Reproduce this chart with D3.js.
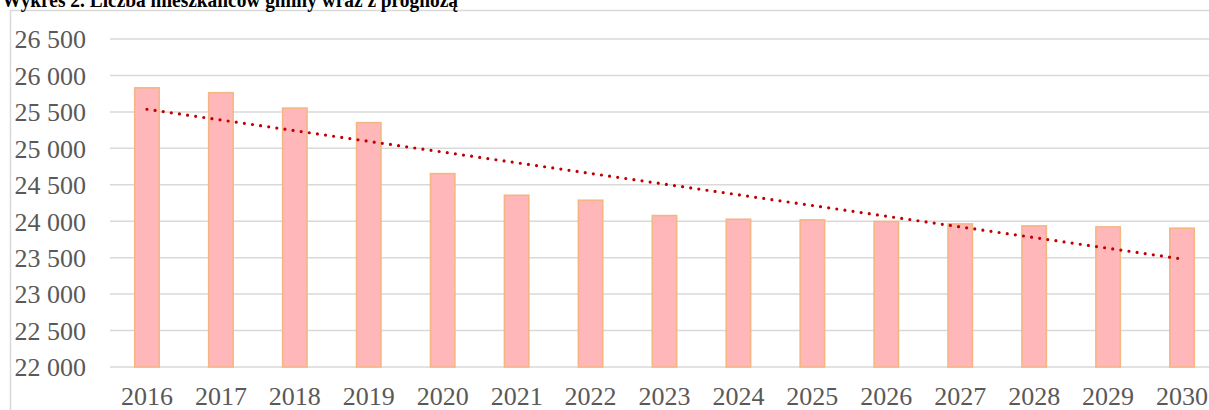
<!DOCTYPE html>
<html>
<head>
<meta charset="utf-8">
<script src="https://cdn.jsdelivr.net/npm/d3@7"></script>
<style>
  html, body { margin: 0; padding: 0; background: #fff; }
  svg { display: block; }
</style>
</head>
<body>
<svg id="chart" width="1209" height="410"></svg>
<script>
// population of the commune 2016-2030 (incl. forecast)
const years = ['2016', '2017', '2018', '2019', '2020', '2021', '2022', '2023',
  '2024', '2025', '2026', '2027', '2028', '2029', '2030'];
const population = [25830, 25763, 25552, 25352, 24653, 24356, 24288, 24078,
  24027, 24018, 23996, 23963, 23936, 23922, 23904];
const yTicks = [22000, 22500, 23000, 23500, 24000, 24500, 25000, 25500, 26000, 26500];
const title = 'Wykres 2. Liczba mieszkańców gminy wraz z prognozą';

const svg = d3.select('#chart');
const serif = '"Liberation Serif", "Times New Roman", serif';

const x = d3.scaleBand()
  .domain(years)
  .range([110, 1219])
  .paddingInner(0.67)
  .paddingOuter(0.335);

const y = d3.scaleLinear()
  .domain([22000, 26500])
  .range([367, 39]);

const fmt = d3.formatLocale({ thousands: ' ', grouping: [3], decimal: ',', currency: ['', ''] }).format(',');

// chart frame
svg.append('rect')
  .attr('x', 10.5).attr('y', 10.5)
  .attr('width', 1300).attr('height', 500)
  .attr('fill', 'none')
  .attr('stroke', '#d9d9d9')
  .attr('stroke-width', 1.5);

// title (partly above the visible area)
svg.append('text')
  .attr('x', 2).attr('y', 7)
  .attr('font-family', serif)
  .attr('font-weight', 'bold')
  .attr('font-size', 21)
  .attr('textLength', 456)
  .attr('lengthAdjust', 'spacingAndGlyphs')
  .attr('fill', '#000')
  .text(title);

// gridlines + y labels
const yAxis = d3.axisLeft(y).tickValues(yTicks).tickSize(0).tickFormat(fmt);
const gy = svg.append('g').attr('transform', 'translate(86,0)').call(yAxis);
gy.select('.domain').remove();
gy.selectAll('text')
  .attr('x', 0)
  .attr('dy', '0.34em')
  .attr('font-family', serif)
  .attr('font-size', 26)
  .attr('fill', '#595959');

svg.append('g').selectAll('line')
  .data(yTicks)
  .join('line')
  .attr('x1', 110).attr('x2', 1209)
  .attr('y1', (d) => y(d)).attr('y2', (d) => y(d))
  .attr('stroke', '#d9d9d9')
  .attr('stroke-width', 1.5);

// bars
svg.append('g').selectAll('rect')
  .data(years)
  .join('rect')
  .attr('x', (d) => x(d))
  .attr('y', (d, i) => y(population[i]))
  .attr('width', x.bandwidth())
  .attr('height', (d, i) => y(22000) - y(population[i]))
  .attr('fill', '#ffb7b9')
  .attr('stroke', '#f5b686')
  .attr('stroke-width', 1.6);

// x labels
const xAxis = d3.axisBottom(x).tickSize(0);
const gx = svg.append('g').attr('transform', 'translate(0,367)').call(xAxis);
gx.select('.domain').remove();
gx.selectAll('text')
  .attr('y', 38)
  .attr('dy', 0)
  .attr('font-family', serif)
  .attr('font-size', 26)
  .attr('fill', '#595959');

// linear trend (least squares over the series)
const n = population.length;
const idx = d3.range(n);
const mx = d3.mean(idx);
const my = d3.mean(population);
const slope = d3.sum(idx, (i) => (i - mx) * (population[i] - my)) / d3.sum(idx, (i) => (i - mx) ** 2);
const icpt = my - slope * mx;
const trend = [0, n - 1].map((i) => [years[i], icpt + slope * i]);

svg.append('path')
  .datum(trend)
  .attr('d', d3.line()
    .x((d) => x(d[0]) + x.bandwidth() / 2)
    .y((d) => y(d[1])))
  .attr('fill', 'none')
  .attr('stroke', '#c00000')
  .attr('stroke-width', 3.2)
  .attr('stroke-linecap', 'round')
  .attr('stroke-dasharray', '0 8.2');
</script>
</body>
</html>
